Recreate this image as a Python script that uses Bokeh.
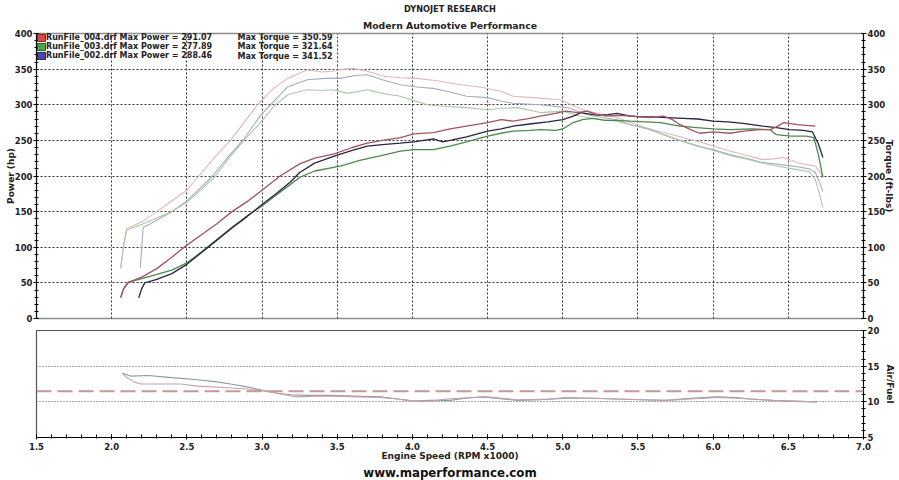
from bokeh.plotting import figure
from bokeh.layouts import column
from bokeh.models import (Range1d, LinearAxis, FixedTicker, SingleIntervalTicker, Label,
                          Legend, LegendItem, Span, PrintfTickFormatter, Title)
from bokeh.embed import file_html
from bokeh.resources import INLINE

# ---------------- data ----------------
title_top = "DYNOJET RESEARCH"
title_sub = "Modern Automotive Performance"
footer = "www.maperformance.com"
x_label = "Engine Speed (RPM x1000)"
run_names = ["RunFile_004.drf", "RunFile_003.drf", "RunFile_002.drf"]
max_power = ["291.07", "277.89", "288.46"]
max_torque = ["350.59", "321.64", "341.52"]

# Run 004 (red)
p004_rpm = [2.06, 2.08, 2.11, 2.15, 2.20, 2.30, 2.40, 2.50, 2.60, 2.70, 2.80, 2.90, 3.00, 3.12, 3.25,
            3.35, 3.48, 3.60, 3.70, 3.80, 3.92, 4.01, 4.14, 4.25, 4.36, 4.50, 4.59, 4.67, 4.78, 4.85,
            4.95, 5.02, 5.10, 5.16, 5.22, 5.29, 5.36, 5.47, 5.57, 5.67, 5.73, 5.78, 5.85, 5.91, 6.00,
            6.11, 6.20, 6.31, 6.38, 6.43, 6.47, 6.56, 6.62, 6.68]
p004_hp = [29, 42, 51, 54, 58, 70, 86, 103, 118, 133, 150, 164, 180, 200, 217,
           225, 231, 240, 246, 250, 254, 259, 261, 266, 270, 275, 279, 277, 281, 284,
           288, 291, 289, 291, 287, 284, 285, 284, 282, 284, 279, 272, 265, 260, 262,
           260, 263, 265, 265, 270, 275, 272, 271, 270]
t004_rpm = [2.06, 2.08, 2.10, 2.15, 2.21, 2.30, 2.40, 2.50, 2.58, 2.68, 2.79, 2.88, 2.97, 3.07, 3.17,
            3.30, 3.40, 3.47, 3.55, 3.61, 3.70, 3.81, 3.92, 4.03, 4.15, 4.32, 4.45, 4.59, 4.67, 4.80,
            4.98, 5.08, 5.16, 5.26, 5.36, 5.45, 5.58, 5.67, 5.78, 5.89, 6.00, 6.11, 6.22, 6.33, 6.40,
            6.47, 6.56, 6.62, 6.68, 6.71, 6.73]
t004_tq = [72, 105, 126, 131, 137, 150, 165, 180, 200, 225, 250, 275, 300, 322, 337,
           349, 346, 347, 350, 351, 347, 340, 338, 337, 334, 328, 325, 319, 312, 310,
           307, 298, 291, 287, 282, 275, 266, 261, 255, 249, 242, 235, 229, 223, 224,
           226, 219, 216, 214, 205, 198]

# Run 003 (green)
p003_rpm = [2.06, 2.08, 2.11, 2.15, 2.20, 2.30, 2.40, 2.50, 2.60, 2.70, 2.80, 2.90, 3.00, 3.10, 3.20,
            3.25, 3.35, 3.52, 3.65, 3.80, 3.92, 4.01, 4.14, 4.25, 4.36, 4.50, 4.59, 4.67, 4.78, 4.85,
            4.95, 5.00, 5.07, 5.13, 5.20, 5.28, 5.36, 5.45, 5.55, 5.65, 5.78, 5.89, 6.00, 6.11, 6.25,
            6.38, 6.42, 6.52, 6.62, 6.67, 6.70, 6.73]
p003_hp = [30, 42, 50, 53, 56, 62, 68, 78, 94, 111, 128, 144, 158, 174, 190,
           198, 207, 214, 222, 229, 235, 237, 237, 242, 248, 256, 260, 263, 264, 265,
           264, 266, 275, 279, 281, 278, 278, 277, 276, 275, 270, 268, 266, 265, 266,
           265, 258, 256, 256, 254, 230, 198]
t003_rpm = [2.06, 2.08, 2.10, 2.15, 2.21, 2.30, 2.40, 2.50, 2.60, 2.69, 2.78, 2.88, 2.99, 3.08, 3.17,
            3.30, 3.40, 3.47, 3.57, 3.70, 3.80, 3.92, 4.01, 4.10, 4.20, 4.36, 4.50, 4.59, 4.70, 4.85,
            5.00, 5.08, 5.16, 5.26, 5.36, 5.45, 5.58, 5.67, 5.78, 5.89, 6.00, 6.11, 6.22, 6.33, 6.45,
            6.56, 6.64, 6.68, 6.71, 6.73]
t003_tq = [70, 102, 124, 128, 133, 141, 150, 163, 182, 200, 225, 250, 275, 298, 314,
           321, 320, 321, 316, 321, 316, 312, 306, 300, 298, 296, 293, 295, 296, 289,
           291, 286, 282, 279, 277, 272, 266, 258, 250, 243, 236, 229, 224, 218, 213,
           209, 206, 195, 172, 156]

# Run 002 (blue)
p002_rpm = [2.18, 2.20, 2.22, 2.30, 2.40, 2.50, 2.60, 2.70, 2.80, 2.90, 3.00, 3.10, 3.19, 3.25, 3.35,
            3.48, 3.60, 3.70, 3.80, 3.92, 4.01, 4.14, 4.20, 4.25, 4.36, 4.50, 4.59, 4.67, 4.78, 4.90,
            5.00, 5.07, 5.12, 5.20, 5.25, 5.30, 5.36, 5.45, 5.52, 5.60, 5.70, 5.80, 5.90, 6.00, 6.10,
            6.20, 6.33, 6.42, 6.51, 6.60, 6.66, 6.70, 6.73]
p002_hp = [29, 42, 50, 55, 63, 76, 93, 110, 127, 143, 160, 176, 192, 205, 218,
           228, 236, 242, 244, 246, 248, 252, 248, 250, 255, 263, 266, 270, 273, 276,
           279, 284, 289, 286, 285, 286, 288, 284, 283, 283, 282, 281, 280, 277, 276,
           274, 270, 268, 265, 264, 262, 245, 226]
t002_rpm = [2.19, 2.20, 2.21, 2.25, 2.30, 2.40, 2.50, 2.60, 2.67, 2.78, 2.88, 2.99, 3.08, 3.17, 3.30,
            3.42, 3.52, 3.62, 3.70, 3.80, 3.92, 4.03, 4.14, 4.25, 4.36, 4.50, 4.59, 4.67, 4.85, 5.03,
            5.10, 5.16, 5.26, 5.36, 5.45, 5.58, 5.67, 5.78, 5.89, 6.00, 6.11, 6.22, 6.33, 6.45, 6.56,
            6.64, 6.68, 6.71, 6.73]
t002_tq = [71, 100, 128, 132, 138, 150, 165, 185, 200, 228, 252, 285, 305, 325, 335,
           337, 337, 341, 342, 335, 328, 325, 323, 318, 312, 310, 305, 302, 300, 296,
           291, 286, 282, 279, 272, 265, 258, 250, 242, 237, 230, 225, 219, 216, 213,
           210, 205, 190, 178]

# Air / fuel
afr_target = 11.5
afrA_rpm = [2.07, 2.10, 2.15, 2.19, 2.30, 2.46, 2.57, 2.75, 2.90, 3.06, 3.15, 3.23, 3.35, 3.50, 3.65,
            3.79, 3.90, 4.01, 4.12, 4.23, 4.40, 4.50, 4.70, 4.90, 5.03, 5.20, 5.36, 5.55, 5.69, 5.85,
            6.03, 6.15, 6.25, 6.40, 6.55, 6.69]
afrA = [14.0, 13.4, 12.8, 12.5, 12.5, 12.5, 12.2, 12.0, 11.8, 11.4, 11.0, 10.7, 10.8, 10.8, 10.7,
        10.6, 10.4, 10.1, 10.1, 10.4, 10.6, 10.7, 10.3, 10.4, 10.6, 10.5, 10.4, 10.3, 10.2, 10.4,
        10.6, 10.5, 10.4, 10.2, 10.1, 10.0]
afrB_rpm = [2.07, 2.13, 2.24, 2.40, 2.57, 2.70, 2.79, 2.90, 3.01, 3.10, 3.19, 3.30, 3.45, 3.60, 3.79,
            3.90, 4.01, 4.12, 4.25, 4.35, 4.47, 4.60, 4.70, 4.85, 5.03, 5.20, 5.36, 5.50, 5.69, 5.85,
            6.03, 6.15, 6.25, 6.47, 6.69]
afrB = [14.0, 13.6, 13.7, 13.4, 13.1, 12.8, 12.5, 12.1, 11.6, 11.2, 11.0, 10.9, 10.9, 10.8, 10.7,
        10.4, 10.1, 10.2, 10.2, 10.5, 10.7, 10.4, 10.2, 10.3, 10.5, 10.5, 10.4, 10.3, 10.2, 10.5,
        10.7, 10.6, 10.4, 10.1, 10.0]

# ---------------- styling ----------------
FONT = "DejaVu Sans"
W = 899
ML, MR = 36, 36
TOP1, H1 = 32, 286          # main frame spans y 32..318
H1_FIG = 324
TOP2 = 6                    # lower frame starts at y 330
BOT2 = 43                   # lower frame ends at y 437
H2_FIG = 480 - H1_FIG

grid_col = "#333333"
TXT = "#222222"

def style_axis(ax, size="8.5px"):
    ax.axis_line_color = "#000000"
    ax.axis_line_width = 1
    ax.major_tick_line_color = "#000000"
    ax.minor_tick_line_color = "#000000"
    ax.major_tick_in = 2
    ax.major_tick_out = 3
    ax.minor_tick_in = 2
    ax.minor_tick_out = 2
    ax.major_label_standoff = 1
    ax.major_label_text_font = FONT
    ax.major_label_text_font_style = "bold"
    ax.major_label_text_font_size = size
    ax.major_label_text_color = TXT
    ax.axis_label_text_font = FONT
    ax.axis_label_text_font_style = "bold"
    ax.axis_label_text_font_size = "9px"
    ax.axis_label_text_color = TXT
    ax.axis_label_standoff = -4

# ---------------- main panel ----------------
p1 = figure(width=W, height=H1_FIG, x_range=Range1d(1.5, 7.0), y_range=Range1d(0, 400),
            output_backend="svg", toolbar_location=None, x_axis_location=None,
            y_axis_location="left", min_border_left=ML, min_border_right=MR,
            min_border_top=TOP1, min_border_bottom=H1_FIG - TOP1 - H1)
p1.background_fill_color = "white"
p1.border_fill_color = "white"
p1.outline_line_color = "#8c8c8c"
p1.outline_line_width = 1.5

# titles (closest to the frame first)
p1.add_layout(Title(text=title_sub, align="center", text_font=FONT,
                    text_font_style="bold", text_font_size="9.3px", text_color=TXT,
                    standoff=6, offset=0), "above")
p1.add_layout(Title(text=title_top, align="center", text_font=FONT,
                    text_font_style="bold", text_font_size="8.2px", text_color=TXT,
                    standoff=2, offset=0), "above")

p1.yaxis.ticker = SingleIntervalTicker(interval=50, num_minor_ticks=5)
p1.yaxis.axis_label = "Power (hp)"
style_axis(p1.yaxis[0])
rax = LinearAxis(ticker=SingleIntervalTicker(interval=50, num_minor_ticks=5),
                 axis_label="Torque (ft-lbs)")
style_axis(rax)
p1.add_layout(rax, "right")

p1.xgrid.ticker = FixedTicker(ticks=[2.0, 2.5, 3.0, 3.5, 4.0, 4.5, 5.0, 5.5, 6.0, 6.5])
p1.ygrid.ticker = FixedTicker(ticks=[50, 100, 150, 200, 250, 300, 350])
for g in (p1.xgrid[0], p1.ygrid[0]):
    g.grid_line_color = grid_col
    g.grid_line_dash = "2 2"
    g.grid_line_width = 1

# torque (light) curves
p1.line(t004_rpm, t004_tq, line_color="#e2b6b8", line_width=1.1)
p1.line(t002_rpm, t002_tq, line_color="#a6adbd", line_width=1.1)
p1.line(t003_rpm, t003_tq, line_color="#a9c9a9", line_width=1.1)
# power curves
p1.line(p003_rpm, p003_hp, line_color="#4c8a4c", line_width=1.3)
p1.line(p002_rpm, p002_hp, line_color="#26263f", line_width=1.3)
p1.line(p004_rpm, p004_hp, line_color="#a25360", line_width=1.3)

# legend swatches (renderers hold no drawable point; they only feed the legend)
sw_fill = ["#d84848", "#48a448", "#4848a8"]
sw_line = ["#802020", "#206020", "#202060"]
items = []
nan = float("nan")
for name, mp, fc, lc in zip(run_names, max_power, sw_fill, sw_line):
    r = p1.rect(x=[nan], y=[nan], width=0.1, height=10, fill_color=fc, line_color=lc,
                line_width=1)
    items.append(LegendItem(label=f"{name} Max Power = {mp}", renderers=[r]))
LEG_FS = "8px"
leg = Legend(items=items, location="top_left")
leg.margin = 0
leg.padding = 0
leg.spacing = 0
leg.glyph_width = 10
leg.glyph_height = 9
leg.label_height = 9
leg.label_standoff = 0
leg.label_text_font = FONT
leg.label_text_font_style = "bold"
leg.label_text_font_size = LEG_FS
leg.label_text_color = TXT
leg.background_fill_alpha = 0
leg.border_line_alpha = 0
p1.add_layout(leg)

for i, mt in enumerate(max_torque):
    p1.add_layout(Label(x=201, y=H1 - 4.7 - 9.4 * i, x_units="screen", y_units="screen",
                        text=f"Max Torque = {mt}", text_font=FONT, text_font_style="bold",
                        text_font_size=LEG_FS, text_color=TXT, text_baseline="middle"))

# ---------------- air / fuel panel ----------------
p2 = figure(width=W, height=H2_FIG, x_range=p1.x_range, y_range=Range1d(5, 20),
            output_backend="svg", toolbar_location=None, x_axis_location="below",
            y_axis_location="right", min_border_left=ML, min_border_right=MR,
            min_border_top=TOP2, min_border_bottom=BOT2)
p2.background_fill_color = "white"
p2.border_fill_color = "white"
p2.outline_line_color = "#555555"
p2.outline_line_width = 1.2

p2.xaxis.ticker = SingleIntervalTicker(interval=0.5, num_minor_ticks=5)
p2.xaxis.formatter = PrintfTickFormatter(format="%.1f")
p2.xaxis.axis_label = x_label
style_axis(p2.xaxis[0])
p2.xaxis.major_tick_in = 3
p2.xaxis.major_tick_out = 2
p2.xaxis.minor_tick_in = 3
p2.xaxis.minor_tick_out = 1
p2.xaxis.major_label_standoff = 3
p2.xaxis.axis_label_standoff = -2

p2.add_layout(Title(text=footer, align="center", text_font=FONT, text_font_style="bold",
                    text_font_size="11.8px", text_color="#111111", standoff=0, offset=0),
              "below")

p2.yaxis.ticker = SingleIntervalTicker(interval=5, num_minor_ticks=5)
p2.yaxis.axis_label = "Air/Fuel"
style_axis(p2.yaxis[0])
p2.yaxis.axis_label_standoff = 3

p2.xgrid.visible = False
p2.ygrid.ticker = FixedTicker(ticks=[10, 15])
p2.ygrid.grid_line_color = "#555555"
p2.ygrid.grid_line_dash = "1 2"
p2.ygrid.grid_line_width = 1

p2.add_layout(Span(location=afr_target, dimension="width", line_color="#c99598",
                   line_width=2, line_dash="15 6"))
p2.line(afrB_rpm, afrB, line_color="#8a9c98", line_width=1.1)
p2.line(afrA_rpm, afrA, line_color="#c4a0a4", line_width=1.1)

layout = column(p1, p2, spacing=0)
open("out.html", "w").write(file_html(layout, INLINE))
